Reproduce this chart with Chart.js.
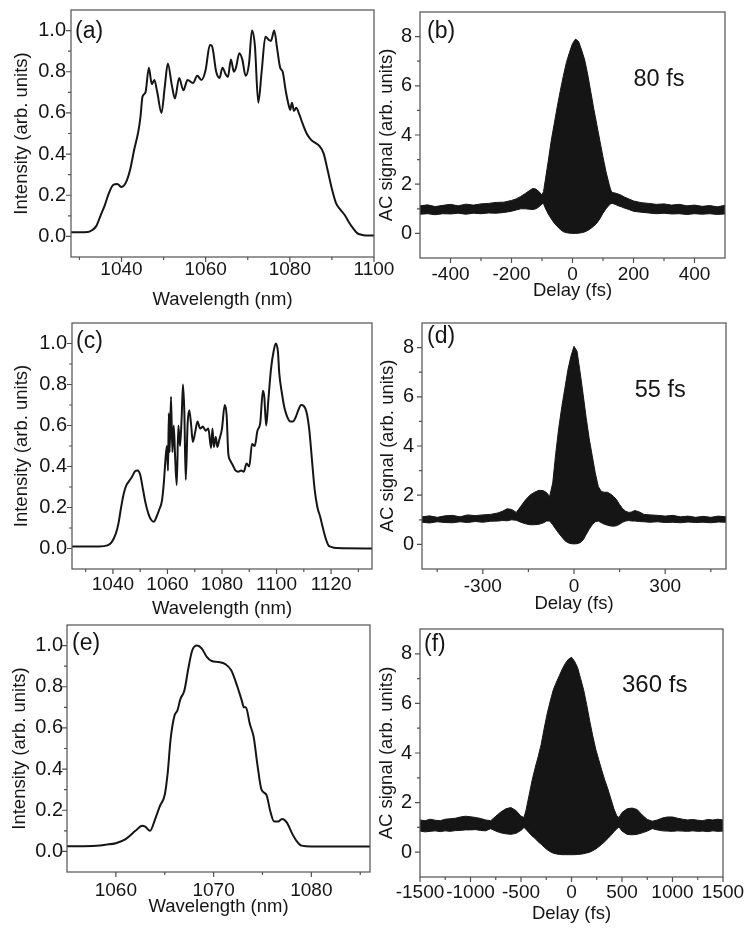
<!DOCTYPE html>
<html><head><meta charset="utf-8">
<script src="https://cdn.jsdelivr.net/npm/chart.js@4/dist/chart.umd.min.js"></script>
<style>
html,body{margin:0;padding:0;background:#fff;}
body{position:relative;width:754px;height:930px;overflow:hidden;}
canvas{position:absolute;}
</style></head><body>
<script>
// ---------- DATA ----------
// (a) spectrum
const wlA = [1028,1030,1032,1033,1034,1035,1036,1037,1038,1039,1040,1041,1042,1043,1044,1044.5,1045,1045.7,1046.5,1047.2,1047.8,1048.5,1049.5,1050.3,1051,1052,1052.7,1053.7,1054.7,1055.7,1057,1058,1059,1060,1061,1061.5,1062.5,1063.3,1064,1064.7,1065.3,1066,1066.7,1067.2,1068,1068.7,1069.5,1070.3,1071,1071.7,1072.5,1073.3,1074.2,1075,1075.5,1076.3,1077,1077.7,1078.3,1079,1079.7,1080.1,1080.5,1081,1081.5,1082.3,1083,1084,1085,1086,1087,1088,1089,1090,1091,1092,1093,1094,1095,1096,1097,1098,1100];
const intA = [0.02,0.02,0.022,0.03,0.05,0.10,0.15,0.21,0.25,0.255,0.24,0.26,0.32,0.42,0.51,0.58,0.68,0.70,0.82,0.74,0.76,0.70,0.60,0.73,0.84,0.73,0.67,0.77,0.71,0.76,0.745,0.78,0.76,0.81,0.93,0.925,0.80,0.77,0.82,0.79,0.775,0.86,0.80,0.82,0.89,0.86,0.78,0.84,1.0,0.925,0.65,0.80,0.97,0.955,0.95,1.0,0.91,0.82,0.80,0.71,0.64,0.615,0.65,0.61,0.625,0.59,0.55,0.50,0.47,0.455,0.44,0.405,0.32,0.23,0.16,0.13,0.105,0.07,0.04,0.016,0.008,0.005,0.005];
// (c) spectrum
const wlC = [1025,1035,1038,1039.5,1041,1042,1043,1044,1045,1046,1047,1048,1049,1050,1051,1052,1053,1054,1055,1056,1057,1058,1058.7,1059.3,1059.8,1060.2,1060.5,1060.8,1061.3,1061.8,1062.3,1062.8,1063.4,1064,1064.6,1065.2,1065.7,1066.2,1066.7,1067.4,1068,1068.7,1069.3,1070.2,1071,1072,1073,1074,1075,1076,1076.5,1077,1077.7,1078.3,1079,1080,1081,1081.7,1082.3,1083,1084,1085,1086,1087,1088,1089,1090,1091,1092,1093,1094,1095,1095.5,1096.2,1097,1098,1099,1099.7,1100.5,1101,1102,1103,1104,1105,1106,1107,1108,1109,1110,1111,1112,1113,1114,1115,1116,1117,1118,1119,1120,1122,1135];
const intC = [0.01,0.01,0.015,0.03,0.07,0.12,0.20,0.27,0.31,0.33,0.35,0.375,0.38,0.36,0.29,0.22,0.17,0.14,0.13,0.155,0.19,0.235,0.325,0.44,0.50,0.38,0.66,0.47,0.74,0.47,0.60,0.45,0.31,0.60,0.50,0.635,0.80,0.66,0.335,0.61,0.675,0.60,0.52,0.57,0.62,0.585,0.595,0.575,0.585,0.49,0.585,0.495,0.545,0.495,0.53,0.585,0.70,0.65,0.465,0.43,0.405,0.38,0.375,0.38,0.375,0.415,0.40,0.51,0.50,0.575,0.61,0.77,0.74,0.60,0.725,0.88,0.967,1.0,0.96,0.855,0.755,0.68,0.64,0.62,0.62,0.64,0.675,0.70,0.695,0.665,0.58,0.43,0.285,0.20,0.155,0.10,0.05,0.016,0.008,0.002,0.0];
// (e) spectrum
const wlE = [1055,1058,1059,1060,1061,1062,1062.7,1063,1063.5,1064,1064.5,1065,1065.3,1065.6,1066,1066.3,1066.6,1067,1067.4,1067.8,1068.3,1068.8,1069.3,1069.8,1070.5,1071.2,1071.8,1072.4,1072.9,1073.1,1073.3,1073.7,1074.1,1074.5,1074.9,1075.4,1075.8,1076.2,1076.6,1077,1077.5,1078,1078.5,1079,1080,1086];
const intE = [0.025,0.028,0.033,0.04,0.06,0.10,0.125,0.12,0.10,0.155,0.22,0.275,0.38,0.545,0.66,0.685,0.74,0.78,0.885,0.975,1.0,0.985,0.945,0.925,0.92,0.91,0.88,0.805,0.73,0.70,0.70,0.62,0.555,0.415,0.30,0.275,0.195,0.145,0.145,0.158,0.14,0.09,0.05,0.028,0.024,0.024];
// (b) autocorrelation envelope
const tB  = [-500,-475,-450,-425,-400,-375,-350,-325,-300,-275,-250,-225,-200,-185,-170,-155,-140,-130,-120,-110,-100,-95,-90,-80,-70,-60,-50,-40,-30,-20,-10,0,10,20,30,40,50,60,70,80,90,100,110,120,125,130,140,150,160,170,185,200,225,250,275,300,325,350,375,400,425,450,475,500];
const upB = [1.12,1.16,1.09,1.14,1.18,1.12,1.19,1.15,1.2,1.22,1.26,1.27,1.34,1.4,1.5,1.62,1.75,1.83,1.8,1.7,1.56,1.7,2.1,2.9,3.75,4.45,5.15,5.8,6.4,6.95,7.35,7.72,7.9,7.8,7.45,7.05,6.45,5.75,5.05,4.4,3.75,3.1,2.5,2.0,1.78,1.66,1.64,1.6,1.55,1.48,1.4,1.32,1.25,1.22,1.18,1.2,1.15,1.18,1.12,1.15,1.1,1.13,1.08,1.14];
const loB = [0.78,0.8,0.76,0.8,0.79,0.82,0.78,0.82,0.8,0.83,0.82,0.85,0.9,0.95,1.0,1.0,0.98,0.97,1.0,1.08,1.2,1.22,1.05,0.8,0.6,0.42,0.28,0.16,0.07,0.03,0.01,0.0,0.0,0.01,0.03,0.06,0.12,0.2,0.3,0.42,0.6,0.82,1.0,1.15,1.2,1.22,1.18,1.12,1.08,1.03,0.97,0.9,0.86,0.83,0.8,0.82,0.79,0.8,0.77,0.8,0.78,0.8,0.77,0.79];
// (d) autocorrelation envelope
const tD  = [-500,-475,-450,-425,-400,-375,-350,-325,-300,-275,-250,-235,-220,-205,-190,-175,-160,-145,-130,-115,-100,-90,-80,-70,-60,-50,-40,-30,-20,-10,0,10,20,30,40,50,60,70,80,90,100,110,120,130,140,150,160,170,180,190,200,215,230,250,275,300,325,350,375,400,425,450,475,500];
const upD = [1.12,1.16,1.1,1.16,1.18,1.12,1.2,1.17,1.2,1.22,1.28,1.35,1.45,1.42,1.3,1.55,1.8,2.0,2.12,2.2,2.18,2.1,1.95,2.5,3.7,4.75,5.6,6.35,7.1,7.65,8.05,7.85,7.0,6.1,5.15,4.3,3.6,2.9,2.35,2.15,2.12,2.12,2.05,1.95,1.82,1.62,1.45,1.35,1.3,1.32,1.38,1.32,1.22,1.2,1.18,1.15,1.18,1.12,1.15,1.1,1.14,1.1,1.15,1.12];
const loD = [0.9,0.87,0.92,0.89,0.88,0.92,0.89,0.93,0.9,0.94,0.95,0.97,0.96,1.0,0.98,0.9,0.84,0.8,0.8,0.82,0.88,0.95,0.95,0.8,0.62,0.45,0.3,0.15,0.07,0.03,0.02,0.03,0.07,0.18,0.4,0.62,0.8,0.92,0.95,0.88,0.82,0.78,0.75,0.74,0.76,0.82,0.9,0.95,0.97,0.95,0.95,0.93,0.92,0.9,0.92,0.89,0.9,0.88,0.91,0.89,0.9,0.88,0.91,0.9];
// (f) autocorrelation envelope
const tF  = [-1500,-1450,-1400,-1350,-1300,-1250,-1200,-1150,-1100,-1050,-1000,-950,-900,-850,-800,-750,-700,-650,-600,-550,-500,-470,-450,-420,-390,-360,-330,-300,-270,-240,-210,-180,-150,-120,-90,-60,-30,0,30,60,90,120,150,180,210,240,270,300,330,360,390,420,450,470,500,550,600,650,700,750,800,850,900,950,1000,1050,1100,1150,1200,1250,1300,1350,1400,1450,1500];
const upF = [1.3,1.27,1.33,1.29,1.27,1.33,1.35,1.37,1.42,1.45,1.43,1.4,1.36,1.3,1.27,1.45,1.62,1.75,1.8,1.68,1.45,1.4,1.7,2.3,2.9,3.4,3.85,4.35,5.0,5.6,6.1,6.55,6.85,7.12,7.4,7.62,7.78,7.86,7.7,7.45,7.0,6.55,5.95,5.3,4.7,4.15,3.72,3.3,2.9,2.55,2.15,1.75,1.45,1.4,1.6,1.75,1.78,1.72,1.5,1.32,1.25,1.3,1.38,1.42,1.42,1.37,1.33,1.3,1.32,1.29,1.27,1.32,1.3,1.33,1.3];
const loF = [0.85,0.82,0.84,0.86,0.83,0.86,0.84,0.87,0.88,0.9,0.9,0.91,0.88,0.86,0.95,0.85,0.78,0.74,0.72,0.76,0.88,1.0,0.92,0.78,0.65,0.55,0.42,0.32,0.2,0.1,0.02,-0.04,-0.07,-0.09,-0.1,-0.1,-0.1,-0.1,-0.1,-0.09,-0.08,-0.06,-0.03,0.0,0.06,0.13,0.22,0.32,0.43,0.55,0.68,0.82,0.95,1.02,0.85,0.72,0.7,0.72,0.78,0.85,0.95,0.9,0.86,0.85,0.84,0.86,0.85,0.84,0.86,0.84,0.85,0.83,0.86,0.84,0.85];

// ---------- TICKS ----------
const xMajA = [1040,1060,1080,1100], xMinA = [1030,1050,1070,1090];
const xMajC = [1040,1060,1080,1100,1120], xMinC = [1030,1050,1070,1090,1110,1130];
const xMajE = [1060,1070,1080], xMinE = [1065,1075,1085];
const xMajB = [-400,-200,0,200,400], xMinB = [-300,-100,100,300];
const xMajD = [-300,0,300], xMinD = [-450,-150,150,450];
const xMajF = [-1500,-1000,-500,0,500,1000,1500], xMinF = [-1250,-750,-250,250,750,1250];
const yMajI = [0,0.2,0.4,0.6,0.8,1.0], yMinI = [0.1,0.3,0.5,0.7,0.9];
const yMajS = [0,2,4,6,8], yMinS = [1,3,5,7];

// ---------- RENDER ----------
const FONT = '"Liberation Sans", Arial, Helvetica, sans-serif';
const INK = '#151515';
const YW = 66, PT = 20, PR = 30, XH = 55;
const pts = (xs, ys) => xs.map((x, i) => ({x: x, y: ys[i]}));

const framePlugin = {
  id: 'frame',
  afterDraw(chart, args, o) {
    const ctx = chart.ctx, ca = chart.chartArea;
    const xs = chart.scales.x, ys = chart.scales.y;
    ctx.save();
    ctx.strokeStyle = '#505050';
    ctx.lineWidth = 1.2;
    ctx.strokeRect(ca.left, ca.top, ca.right - ca.left, ca.bottom - ca.top);
    ctx.beginPath();
    const tick = (vals, len, horiz) => vals.forEach(v => {
      if (horiz) { const p = xs.getPixelForValue(v); ctx.moveTo(p, ca.bottom); ctx.lineTo(p, ca.bottom + len); }
      else { const p = ys.getPixelForValue(v); ctx.moveTo(ca.left, p); ctx.lineTo(ca.left - len, p); }
    });
    tick(o.xMaj, 5, true); tick(o.xMin, 3, true);
    tick(o.yMaj, 5, false); tick(o.yMin, 3, false);
    ctx.stroke();
    ctx.fillStyle = INK;
    ctx.textAlign = 'left';
    ctx.textBaseline = 'alphabetic';
    ctx.font = '23px ' + FONT;
    ctx.fillText(o.label, ca.left + o.dx, ca.top + o.dy);
    if (o.note) {
      ctx.font = o.note.size + 'px ' + FONT;
      ctx.fillText(o.note.text, xs.getPixelForValue(o.note.x), ys.getPixelForValue(o.note.y));
    }
    ctx.restore();
  }
};

function specSets(xs, ys) {
  return [{data: pts(xs, ys), borderColor: INK, borderWidth: 2, pointRadius: 0, fill: false, cubicInterpolationMode: 'monotone'}];
}
function acSets(ts, up, lo) {
  return [
    {data: pts(ts, up), borderColor: INK, backgroundColor: INK, borderWidth: 1, pointRadius: 0, fill: '+1', tension: 0},
    {data: pts(ts, lo), borderColor: INK, borderWidth: 1, pointRadius: 0, fill: false, tension: 0}
  ];
}

function panel(p) {
  const cv = document.createElement('canvas');
  const L = p.rect[0], T = p.rect[1], R = p.rect[2], B = p.rect[3];
  const w = R - L + YW + PR, h = B - T + PT + XH;
  cv.width = w; cv.height = h;
  cv.style.left = (L - YW) + 'px'; cv.style.top = (T - PT) + 'px';
  cv.style.width = w + 'px'; cv.style.height = h + 'px';
  document.body.appendChild(cv);
  const xTickFont = {family: FONT, size: 19};
  const yTickFont = {family: FONT, size: 20};
  const titleFont = {family: FONT, size: 18.5};
  const lh = 18.5 * 1.2;
  new Chart(cv, {
    type: 'line',
    data: {datasets: p.datasets},
    options: {
      responsive: false, animation: false, devicePixelRatio: 1,
      layout: {padding: {left: 0, top: PT, right: PR, bottom: 0}},
      plugins: {legend: {display: false}, tooltip: {enabled: false}, frame: p.frame},
      scales: {
        x: {
          type: 'linear', min: p.xmin, max: p.xmax,
          afterBuildTicks: a => { a.ticks = p.frame.xMaj.map(v => ({value: v})); },
          afterFit: s => { s.height = XH; },
          grid: {display: false, drawTicks: false}, border: {display: false},
          ticks: {autoSkip: false, maxRotation: 0, minRotation: 0, padding: p.xPad, font: xTickFont, color: INK,
                  callback: v => String(v)},
          title: {display: true, text: p.xTitle, font: titleFont, color: INK,
                  padding: {top: 0, bottom: B + XH - lh / 2 - p.xTitleY}}
        },
        y: {
          type: 'linear', min: p.ymin, max: p.ymax,
          afterBuildTicks: a => { a.ticks = p.frame.yMaj.map(v => ({value: v})); },
          afterFit: s => { s.width = YW; },
          grid: {display: false, drawTicks: false}, border: {display: false},
          ticks: {autoSkip: false, padding: p.yPad, font: yTickFont, color: INK,
                  callback: v => p.yDec ? Number(v).toFixed(1) : String(v)},
          title: {display: true, text: p.yTitle, font: titleFont, color: INK,
                  padding: {top: p.yTitleX - (L - YW) - lh / 2, bottom: 0}}
        }
      }
    },
    plugins: [framePlugin]
  });
}

const WL = 'Wavelength (nm)', DL = 'Delay (fs)', IN = 'Intensity (arb. units)', AC = 'AC signal (arb. units)';
panel({rect: [71, 10, 374, 257], xmin: 1028, xmax: 1100, ymin: -0.1, ymax: 1.1, yDec: true,
  xPad: 1.5, yPad: 5, xTitle: WL, yTitle: IN, xTitleY: 300, yTitleX: 22,
  datasets: specSets(wlA, intA),
  frame: {xMaj: xMajA, xMin: xMinA, yMaj: yMajI, yMin: yMinI, label: '(a)', dx: 4, dy: 28}});
panel({rect: [420, 12, 725, 258], xmin: -500, xmax: 500, ymin: -1, ymax: 9, yDec: false,
  xPad: 5, yPad: 8, xTitle: DL, yTitle: AC, xTitleY: 291, yTitleX: 387,
  datasets: acSets(tB, upB, loB),
  frame: {xMaj: xMajB, xMin: xMinB, yMaj: yMajS, yMin: yMinS, label: '(b)', dx: 7, dy: 26,
          note: {text: '80 fs', x: 200, y: 6.0, size: 23.5}}});
panel({rect: [72, 323, 372, 569], xmin: 1025, xmax: 1135, ymin: -0.1, ymax: 1.1, yDec: true,
  xPad: 4, yPad: 5, xTitle: WL, yTitle: IN, xTitleY: 608.5, yTitleX: 22,
  datasets: specSets(wlC, intC),
  frame: {xMaj: xMajC, xMin: xMinC, yMaj: yMajI, yMin: yMinI, label: '(c)', dx: 4, dy: 25}});
panel({rect: [422, 323, 726, 569], xmin: -500, xmax: 500, ymin: -1, ymax: 9, yDec: false,
  xPad: 6, yPad: 8, xTitle: DL, yTitle: AC, xTitleY: 603.5, yTitleX: 388,
  datasets: acSets(tD, upD, loD),
  frame: {xMaj: xMajD, xMin: xMinD, yMaj: yMajS, yMin: yMinS, label: '(d)', dx: 5, dy: 20,
          note: {text: '55 fs', x: 200, y: 6.0, size: 23.5}}});
panel({rect: [67, 625, 370, 872], xmin: 1055, xmax: 1086, ymin: -0.1, ymax: 1.1, yDec: true,
  xPad: 7, yPad: 4, xTitle: WL, yTitle: IN, xTitleY: 907, yTitleX: 20,
  datasets: specSets(wlE, intE),
  frame: {xMaj: xMajE, xMin: xMinE, yMaj: yMajI, yMin: yMinI, label: '(e)', dx: 5, dy: 24.5}});
panel({rect: [420, 629, 723, 877], xmin: -1500, xmax: 1500, ymin: -1, ymax: 9, yDec: false,
  xPad: 4, yPad: 8, xTitle: DL, yTitle: AC, xTitleY: 914, yTitleX: 387,
  datasets: acSets(tF, upF, loF),
  frame: {xMaj: xMajF, xMin: xMinF, yMaj: yMajS, yMin: yMinS, label: '(f)', dx: 4, dy: 22,
          note: {text: '360 fs', x: 500, y: 6.45, size: 24}}});
</script>
</body></html>
